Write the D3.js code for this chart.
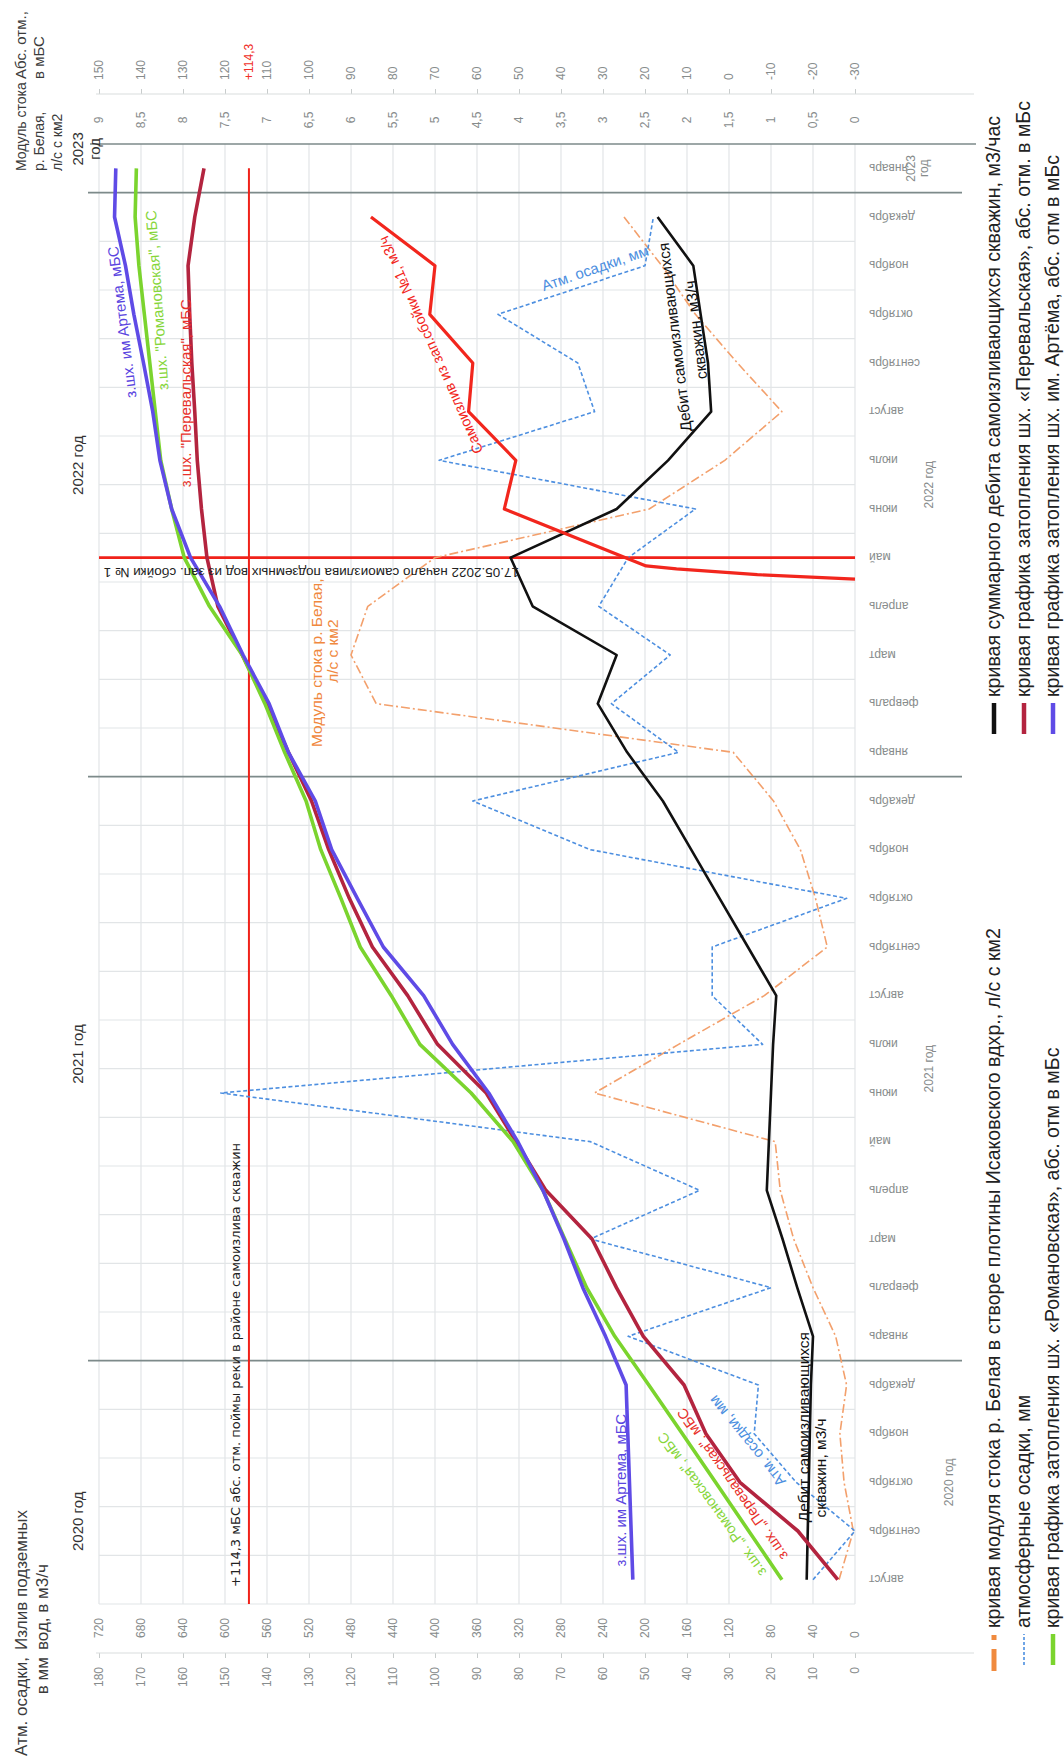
<!DOCTYPE html>
<html><head><meta charset="utf-8">
<script src="https://cdn.jsdelivr.net/npm/d3@7"></script>
<style>body{margin:0;background:#fff} svg{display:block}</style>
</head><body>
<svg id="chart" width="1064" height="1760"></svg>
<script>
// ---- categories (month bands, Aug 2020 .. Jan 2023) ----
const months = ["август","сентябрь","октябрь","ноябрь","декабрь",
  "январь","февраль","март","апрель","май","июнь","июль","август","сентябрь","октябрь","ноябрь","декабрь",
  "январь","февраль","март","апрель","май","июнь","июль","август","сентябрь","октябрь","ноябрь","декабрь",
  "январь"];
const yearLabels = ["2020 год","2021 год","2022 год","2023 год"];
const yearFirstMonth = [0,5,17,29];
const yearLastMonth  = [4,16,28,29];

// ---- axis ticks ----
const precipTicks = d3.range(0,181,10);       // мм
const outflowTicks = d3.range(0,721,40);      // м3/ч
const runoffTicks = d3.range(0,9.001,0.5);    // л/с с км2
const elevTicks = d3.range(-30,151,10);       // мБС

// ---- series ----
// flooding levels of the mines, abs. elevation, мБС
const artyomElev = [22.9,23.3,23.7,24.1,24.5,29.4,34.8,39.3,44.3,50.3,57.2,65.8,72.7,82.3,88.5,94.6,98.5,
  104.9,109.5,115.7,121.3,128.2,132.7,135.5,137.2,139.4,141.7,143.7,146.3,146.0];
const romanovElev = [-12.6,-4.7,3.2,11.1,19.1,27.2,33.9,39.1,44.3,51.4,61.4,73.6,80.4,87.8,92.4,97.2,100.7,
  105.8,110.5,115.9,123.7,129.7,132.7,135.3,136.6,137.9,139.2,140.5,141.4,141.1];
const perevalElev = [-25.9,-16.4,-2.6,5.5,10.7,20.4,26.8,32.6,43.6,50.7,57.8,69.4,76.5,84.9,90.4,95.3,99.4,
  104.9,110.1,115.9,121.7,124.3,125.6,126.6,127.2,127.9,128.4,128.8,127.2,125.0];
// total discharge of self-flowing wells, м3/ч (Aug 2020 .. Dec 2022)
const wellsOutflow = [46,45,44,43,42,40,55,69,84,82,80,78,75,102,129,156,183,
  217,245,227,307,328,227,178,137,140,147,154,188];
// precipitation, мм
const precipitation = [10,0,14,24,23,54,20,63,37,63,151,22,34,34,2,63,91,
  42,58,44,61,54,38,99,62,66,85,50,48];
// runoff module of the Belaya river, л/с с км2
const runoffModule = [0.19,0.02,0.13,0.18,0.10,0.23,0.5,0.73,0.89,0.95,3.1,2.1,1.08,0.33,0.47,0.65,0.97,
  1.45,5.7,6.0,5.8,5.0,2.45,1.55,0.87,1.4,1.9,2.3,2.75];
// outflow from breach No 1 (month position, м3/ч)
const breachPos = [20.56,20.65,20.77,20.83,22,23,24,25,26,27,28];
const breachOutflow = [0,93,170,199,334,323,368,364,405,400,461];
// floodplain level and the start of groundwater outflow (17.05.2022)
const floodplainElev = 114.3;
const floodplainSpan = [-0.5, 29];
const breachStartPos = 21;

// ---- layout: the chart is laid out landscape and turned a quarter turn ----
const svg = d3.select("#chart");
const g = svg.append("g").attr("transform","translate(0,1760) rotate(-90)");
const FONT = "'Liberation Sans', Arial, sans-serif";

const x = d3.scaleLinear().domain([-0.5, 29.5]).range([156, 1616]);
const yP = d3.scaleLinear().domain([0,180]).range([855,99]);
const yQ = d3.scaleLinear().domain([0,720]).range([855,99]);
const yM = d3.scaleLinear().domain([0,9]).range([855,99]);
const yE = d3.scaleLinear().domain([-30,150]).range([855,99]);

// gridlines
const grid = g.append("g");
grid.selectAll("line.h").data(precipTicks).join("line")
  .attr("x1", x(-0.5)).attr("x2", x(29.5)).attr("y1", d=>yP(d)).attr("y2", d=>yP(d))
  .attr("stroke","#e2e5e7").attr("stroke-width",1.2);
const bounds = d3.range(0,31);
const yearBounds = [5,17,29];
grid.selectAll("line.v").data(bounds.filter(k=>!yearBounds.includes(k) && k!==30)).join("line")
  .attr("x1", k=>x(k-0.5)).attr("x2", k=>x(k-0.5)).attr("y1", yP(180)).attr("y2", yP(0))
  .attr("stroke","#e2e5e7").attr("stroke-width",1.2);
grid.selectAll("line.yr").data(yearBounds).join("line")
  .attr("x1", k=>x(k-0.5)).attr("x2", k=>x(k-0.5)).attr("y1", 88).attr("y2", 962)
  .attr("stroke","#7d8a8a").attr("stroke-width",1.6);
grid.append("line").attr("x1",x(29.5)).attr("x2",x(29.5)).attr("y1",90).attr("y2",976)
  .attr("stroke","#7d8a8a").attr("stroke-width",1.6);

// axes
function styleAxis(sel, size){
  sel.select(".domain").remove();
  sel.selectAll(".tick line").attr("stroke","#c8cccc");
  sel.selectAll("text").attr("fill","#878c8c").style("font-family",FONT).style("font-size",size+"px");
}
const ruNum = v => String(v).replace(".",",");

const aP = g.append("g").attr("transform","translate(107,0)")
  .call(d3.axisLeft(yP).tickValues(precipTicks).tickSize(5).tickPadding(9).tickFormat(ruNum));
styleAxis(aP, 12);
g.append("line").attr("x1",107).attr("x2",107).attr("y1",96).attr("y2",974).attr("stroke","#d9dddd").attr("stroke-width",1.2);

const aQ = g.append("g").attr("transform","translate(122,0)")
  .call(d3.axisRight(yQ).tickValues(outflowTicks).tickSize(0).tickPadding(0).tickFormat(ruNum));
styleAxis(aQ, 12);

const aM = g.append("g").attr("transform","translate(1640,0)")
  .call(d3.axisRight(yM).tickValues(runoffTicks).tickSize(0).tickPadding(0).tickFormat(ruNum));
styleAxis(aM, 12);
aM.selectAll("text").attr("text-anchor","middle");

const aE = g.append("g").attr("transform","translate(1666,0)")
  .call(d3.axisRight(yE).tickValues(elevTicks).tickSize(5).tickPadding(9).tickFormat(ruNum));
styleAxis(aE, 12);
g.append("line").attr("x1",1666).attr("x2",1666).attr("y1",96).attr("y2",974).attr("stroke","#d9dddd").attr("stroke-width",1.2);
g.append("text").attr("x",1680).attr("y",yE(floodplainElev)).attr("dy","0.32em")
  .attr("fill","#f0302a").style("font-family",FONT).style("font-size","12px").text("+" + ruNum(floodplainElev));

// month and year labels
g.append("g").selectAll("text").data(months).join("text")
  .attr("transform",(d,i)=>`translate(${x(i)},869) rotate(-90)`)
  .attr("dy","0.35em").attr("text-anchor","end")
  .attr("fill","#878c8c").style("font-family",FONT).style("font-size","12px").text(d=>d);
const yearLabelY = [953, 933, 933];
yearLabels.forEach((lab,k)=>{
  const cx = (x(yearFirstMonth[k]) + x(yearLastMonth[k]))/2;
  const t = g.append("text").attr("text-anchor","middle").attr("fill","#878c8c")
    .style("font-family",FONT).style("font-size","12px");
  if (yearFirstMonth[k] === yearLastMonth[k]) {
    const parts = lab.split(" ");
    t.append("tspan").attr("x",cx).attr("y",915).text(parts[0]);
    t.append("tspan").attr("x",cx).attr("y",928).text(parts[1]);
  } else {
    t.attr("x",cx).attr("y",yearLabelY[k]).text(lab);
  }
});
// year captions above the plot
const yearCapPos = [1.2, 10.8, 22.9, 29.4];
yearLabels.forEach((lab,k)=>{
  const t = g.append("text").attr("text-anchor","middle").attr("fill","#333")
    .style("font-family",FONT).style("font-size","15px");
  if (k === 3) {
    const parts = lab.split(" ");
    t.append("tspan").attr("x",x(yearCapPos[k])).attr("y",83).text(parts[0]);
    t.append("tspan").attr("x",x(yearCapPos[k])).attr("y",100).text(parts[1]);
  } else {
    t.attr("x",x(yearCapPos[k])).attr("y",83).text(lab);
  }
});

// axis titles
function title(lines, xPos, anchor, size, step, y0){
  const t = g.append("text").attr("text-anchor",anchor).attr("fill","#3b3b3b")
    .style("font-family",FONT).style("font-size",size+"px");
  lines.forEach((l,k)=> t.append("tspan").attr("x",xPos).attr("y",y0 + k*step).text(l));
  return t;
}
title(["Атм. осадки,","в мм"], 103, "end", 17, 21, 27);
title(["Излив подземных","вод, в м3/ч"], 110, "start", 17, 21, 27);
title(["Модуль стока","р. Белая,","л/с с км2"], 1589, "start", 14, 18, 26);
g.append("rect").attr("x",1678).attr("y",0).attr("width",82).attr("height",50).attr("fill","#fff");
title(["Абс. отм.,","в мБС"], 1681, "start", 15, 18, 26);

// reference lines
g.append("line").attr("x1",x(floodplainSpan[0])).attr("x2",x(floodplainSpan[1]))
  .attr("y1",yE(floodplainElev)).attr("y2",yE(floodplainElev)).attr("stroke","#f0221a").attr("stroke-width",2);
g.append("line").attr("x1",x(breachStartPos)).attr("x2",x(breachStartPos))
  .attr("y1",yP(180)).attr("y2",yP(0)).attr("stroke","#f0221a").attr("stroke-width",2.6);

// series lines
const plot = g.append("g");
function drawSeries(values, yScale, color, width, dash, xs){
  const line = d3.line().x((d,i)=> x(xs ? xs[i] : i)).y(d=>yScale(d));
  plot.append("path").datum(values).attr("d",line).attr("fill","none")
    .attr("stroke",color).attr("stroke-width",width).attr("stroke-dasharray",dash||null)
    .attr("stroke-linejoin","round");
}
drawSeries(runoffModule, yM, "#f3a06c", 1.6, "9,3,2,3");
drawSeries(precipitation, yP, "#4d8fe0", 1.6, "4,2.5");
drawSeries(wellsOutflow, yQ, "#111111", 2.6);
drawSeries(breachOutflow, yQ, "#f2261d", 3.2, null, breachPos);
drawSeries(perevalElev, yE, "#b3243f", 3.6);
drawSeries(romanovElev, yE, "#7bd42e", 3.6);
drawSeries(artyomElev, yE, "#5f4be6", 3.6);

// in-plot captions: [text, month position, value on precip scale, angle, color, size]
const captions = [
  ["з.шх. им Артема, мБС", 1.84, 55.7, 0, "#5a45e0", 15],
  ["з.шх. „Перевальская\", мБС", 1.96, 29.2, -35, "#e8302a", 14.5],
  ["з.шх. „Романовская\", мБС", 1.54, 34.1, -36, "#86d63a", 14.5],
  ["Атм. осадки, мм", 2.85, 25.7, -39, "#4d8fe0", 15],
  ["з.шх. им Артема, мБС", 25.84, 174.5, -7, "#5a45e0", 15],
  ["з.шх. \"Романовская\", мБС", 26.29, 166.2, -4, "#86d63a", 15],
  ["з.шх. \"Перевальская\", мБС", 24.38, 159.3, 0, "#e8302a", 15],
  ["Самоизлив из зап.сбойки №1, м3/ч", 25.37, 101, -24, "#f2261d", 14.5],
  ["Атм. осадки, мм", 26.95, 61.9, 71, "#4d8fe0", 15],
  ["Дебит самоизливающихся", 25.53, 42.9, -7, "#111", 15.5],
  ["скважин, м3/ч", 25.68, 37.9, -7, "#111", 15.5],
  ["Модуль стока р. Белая,", 18.84, 128.3, 0, "#f0883e", 15.5],
  ["л/с с км2", 19.08, 124.3, 0, "#f0883e", 15.5]
];
captions.forEach(c=>{
  g.append("text").attr("transform",`translate(${x(c[1])},${yP(c[2])}) rotate(${c[3]})`)
    .attr("text-anchor","middle").attr("dy","0.35em").attr("fill",c[4])
    .style("font-family",FONT).style("font-size",c[5]+"px").text(c[0]);
});
// discharge caption near the 2020 start
const wl = g.append("text").attr("fill","#111").style("font-family",FONT).style("font-size","15.5px");
wl.append("tspan").attr("x",x(1.18)).attr("y",yP(12.3)).attr("dy","0.35em").text("Дебит самоизливающихся");
wl.append("tspan").attr("x",x(1.28)).attr("y",yP(8.1)).attr("dy","0.35em").text("скважин, м3/ч");

g.append("text").attr("x",x(-0.15)).attr("y",yP(146.4))
  .attr("fill","#222").style("font-family","'DejaVu Sans', sans-serif").style("font-size","13px")
  .text("+114,3 мБС абс. отм. поймы реки в районе самоизлива скважин");
g.append("text").attr("transform",`translate(${x(20.79)},${yP(80)}) rotate(-90)`)
  .attr("fill","#222").style("font-family",FONT).style("font-size","13.5px")
  .text("17.05.2022 начало самоизлива подземных вод из зап. сбойки № 1");

// legend
const legendRows = [1000, 1030, 1059];
const legendItems = [
  {col:0,row:0,text:"кривая модуля стока р. Белая в створе плотины Исаковского вдхр., л/с с км2", color:"#f08a3e", kind:"dashdot"},
  {col:0,row:1,text:"атмосферные осадки, мм", color:"#4d8fe0", kind:"dash"},
  {col:0,row:2,text:"кривая графика затопления шх. «Романовская», абс. отм в мБс", color:"#7bd42e", kind:"solid"},
  {col:1,row:0,text:"кривая суммарного дебита самоизливающихся скважин, м3/час", color:"#111", kind:"solid"},
  {col:1,row:1,text:"кривая графика затопления шх. «Перевальская», абс. отм. в мБс", color:"#b3243f", kind:"solid"},
  {col:1,row:2,text:"кривая графика затопления шх. им. Артёма, абс. отм в мБс", color:"#5f4be6", kind:"solid"}
];
const legendCols = [95, 1026];
legendItems.forEach(it=>{
  const x0 = legendCols[it.col], yy = legendRows[it.row] - 6;
  if (it.kind === "dashdot") {
    g.append("line").attr("x1",x0-6).attr("x2",x0+16).attr("y1",yy).attr("y2",yy).attr("stroke",it.color).attr("stroke-width",5);
    g.append("rect").attr("x",x0+25).attr("y",yy-2.5).attr("width",5).attr("height",5).attr("fill",it.color);
  } else if (it.kind === "dash") {
    g.append("line").attr("x1",x0).attr("x2",x0+31).attr("y1",yy).attr("y2",yy).attr("stroke",it.color)
      .attr("stroke-width",1.6).attr("stroke-dasharray","3,2");
  } else {
    g.append("line").attr("x1",x0).attr("x2",x0+31).attr("y1",yy).attr("y2",yy).attr("stroke",it.color).attr("stroke-width",4.5);
  }
  g.append("text").attr("x",x0+37).attr("y",legendRows[it.row]).attr("fill","#222")
    .style("font-family",FONT).style("font-size","19.6px").text(it.text);
});
</script>
</body></html>
